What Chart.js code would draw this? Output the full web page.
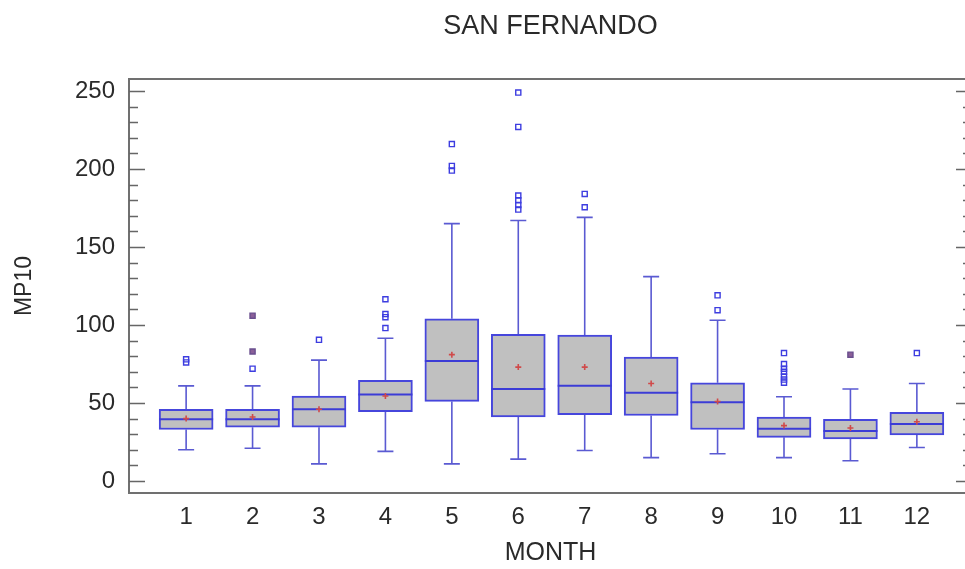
<!DOCTYPE html>
<html>
<head>
<meta charset="utf-8">
<script src="https://cdn.jsdelivr.net/npm/chart.js@4.4.1/dist/chart.umd.min.js"></script>
<style>
  html, body { margin: 0; padding: 0; background: #ffffff; overflow: hidden; }
  #wrap { width: 985px; height: 569px; }
</style>
</head>
<body>
<div id="wrap"><canvas id="c" width="985" height="569"></canvas></div>
<script>
// ---- data ----
const months      = [1, 2, 3, 4, 5, 6, 7, 8, 9, 10, 11, 12];
const whiskerLow  = [20, 21, 11, 19, 11, 14, 19.5, 15, 17.5, 15, 13, 21.5];
const q1          = [33, 34.5, 34.5, 44.5, 51, 41, 42.5, 42, 33, 28, 27, 29.5];
const medians     = [39.5, 39.5, 46, 55.5, 77, 59, 61, 56.5, 50.5, 33.5, 32, 36.5];
const q3          = [46, 46, 54.5, 64.5, 104, 94, 93.5, 79.5, 63, 41, 39.5, 44];
const whiskerHigh = [61, 61, 77.5, 91.5, 165, 167, 169, 131, 103, 54, 59, 62.5];
const means       = [40, 41, 46, 54.5, 81, 73, 73, 62.5, 51, 35.5, 34, 38];
const outliers    = [
  [76, 78], [72], [90.5], [98, 105, 107, 116.5], [199, 202, 216],
  [174, 177, 180, 183, 227, 249], [175.5, 184], [], [109.5, 119],
  [63, 65, 67, 70, 72, 75, 82], [], [82]
];
const farOutliers = [[], [83, 106], [], [], [], [], [], [], [], [], [81], []];
const yTicks = [0, 10, 20, 30, 40, 50, 60, 70, 80, 90, 100, 110, 120, 130, 140, 150, 160, 170, 180, 190, 200, 210, 220, 230, 240, 250];
const yLabelStep = 50;

const FONT = "'Liberation Sans', Arial, sans-serif";
const TEXT = '#2a2a2a';
const BOX_BLUE = '#4646dc';
const WHISK = '#5a5ad2';

const boxData = months.map((m, i) => ({ x: m, y: [q1[i], q3[i]] }));
const meanData = months.map((m, i) => ({ x: m, y: means[i] }));
const outData = months.flatMap((m, i) => outliers[i].map(v => ({ x: m, y: v })));
const farData = months.flatMap((m, i) => farOutliers[i].map(v => ({ x: m, y: v })));

const boxExtras = {
  id: 'boxExtras',
  beforeDatasetsDraw(chart) {
    const { ctx, scales: { x, y } } = chart;
    ctx.save();
    ctx.strokeStyle = WHISK;
    ctx.lineWidth = 1.6;
    const cap = 8;
    months.forEach((m, i) => {
      const px = x.getPixelForValue(m);
      const yl = y.getPixelForValue(whiskerLow[i]);
      const yq1 = y.getPixelForValue(q1[i]);
      const yq3 = y.getPixelForValue(q3[i]);
      const yh = y.getPixelForValue(whiskerHigh[i]);
      ctx.beginPath();
      ctx.moveTo(px, yq1); ctx.lineTo(px, yl);
      ctx.moveTo(px, yq3); ctx.lineTo(px, yh);
      ctx.moveTo(px - cap, yl); ctx.lineTo(px + cap, yl);
      ctx.moveTo(px - cap, yh); ctx.lineTo(px + cap, yh);
      ctx.stroke();
    });
    ctx.restore();
  },
  afterDatasetDraw(chart, args) {
    if (args.index !== 0) return;
    const { ctx, scales: { x, y } } = chart;
    const meta = chart.getDatasetMeta(0);
    ctx.save();
    ctx.strokeStyle = '#3c3cd6';
    ctx.lineWidth = 2;
    months.forEach((m, i) => {
      const bar = meta.data[i];
      const half = bar.width / 2;
      const px = x.getPixelForValue(m);
      const py = y.getPixelForValue(medians[i]);
      ctx.beginPath();
      ctx.moveTo(px - half, py); ctx.lineTo(px + half, py);
      ctx.stroke();
    });
    ctx.restore();
  },
  afterDraw(chart) {
    const { ctx, chartArea: a, scales: { y } } = chart;
    ctx.save();
    ctx.strokeStyle = '#707070';
    ctx.lineWidth = 2;
    ctx.strokeRect(a.left, a.top, a.right - a.left, a.bottom - a.top);
    ctx.lineWidth = 1.5;
    ctx.strokeStyle = '#666666';
    yTicks.forEach(v => {
      const py = Math.round(y.getPixelForValue(v)) + 0.5;
      const len = v % yLabelStep === 0 ? 16 : 9;
      ctx.beginPath();
      ctx.moveTo(a.left, py); ctx.lineTo(a.left + len, py);
      ctx.moveTo(a.right, py); ctx.lineTo(a.right - len, py);
      ctx.stroke();
    });
    ctx.restore();
  }
};

new Chart(document.getElementById('c'), {
  type: 'bar',
  data: {
    datasets: [
      {
        type: 'bar',
        data: boxData,
        backgroundColor: '#c0c0c0',
        borderColor: BOX_BLUE,
        borderWidth: 2,
        borderSkipped: false,
        barThickness: 54,
        order: 3
      },
      {
        type: 'scatter',
        data: outData,
        pointStyle: 'rect',
        pointRadius: 3.6,
        borderColor: '#3d3de0',
        borderWidth: 1.4,
        backgroundColor: 'rgba(255,255,255,0)',
        order: 2
      },
      {
        type: 'scatter',
        data: farData,
        pointStyle: 'rect',
        pointRadius: 3.6,
        borderColor: '#6a4f8e',
        borderWidth: 1.4,
        backgroundColor: '#8a5f98',
        order: 1
      },
      {
        type: 'scatter',
        data: meanData,
        pointStyle: 'cross',
        pointRadius: 3,
        borderColor: '#d04a4a',
        borderWidth: 1.6,
        order: 0
      }
    ]
  },
  options: {
    responsive: false,
    animation: false,
    events: [],
    layout: { padding: { left: 0, right: 13, top: 0, bottom: 0 } },
    plugins: {
      legend: { display: false },
      tooltip: { enabled: false },
      title: {
        display: true,
        fullSize: false,
        text: 'SAN FERNANDO',
        color: TEXT,
        font: { family: FONT, size: 27, weight: 'normal' },
        padding: { top: 10, bottom: 36.6 }
      }
    },
    scales: {
      x: {
        type: 'linear',
        min: 0.14,
        max: 12.83,
        offset: false,
        afterBuildTicks: s => { s.ticks = months.map(v => ({ value: v })); },
        afterFit: s => { s.height = 76; },
        grid: { display: false, drawTicks: false },
        border: { display: false },
        ticks: {
          color: TEXT,
          font: { family: FONT, size: 24 },
          padding: 10,
          autoSkip: false,
          maxRotation: 0,
          callback: v => String(v)
        },
        title: {
          display: true,
          text: 'MONTH',
          color: TEXT,
          font: { family: FONT, size: 25 },
          padding: { top: 2, bottom: 1 }
        }
      },
      y: {
        type: 'linear',
        min: -7.7,
        max: 257.7,
        afterBuildTicks: s => { s.ticks = yTicks.map(v => ({ value: v })); },
        afterFit: s => { s.width = 129; },
        grid: { display: false, drawTicks: false },
        border: { display: false },
        ticks: {
          color: TEXT,
          font: { family: FONT, size: 24 },
          padding: 14,
          autoSkip: false,
          callback: v => (v % yLabelStep === 0 ? String(v) : '')
        },
        title: {
          display: true,
          text: 'MP10',
          color: TEXT,
          font: { family: FONT, size: 23 },
          padding: { top: 11, bottom: 2 }
        }
      }
    }
  },
  plugins: [boxExtras]
});
</script>
</body>
</html>
